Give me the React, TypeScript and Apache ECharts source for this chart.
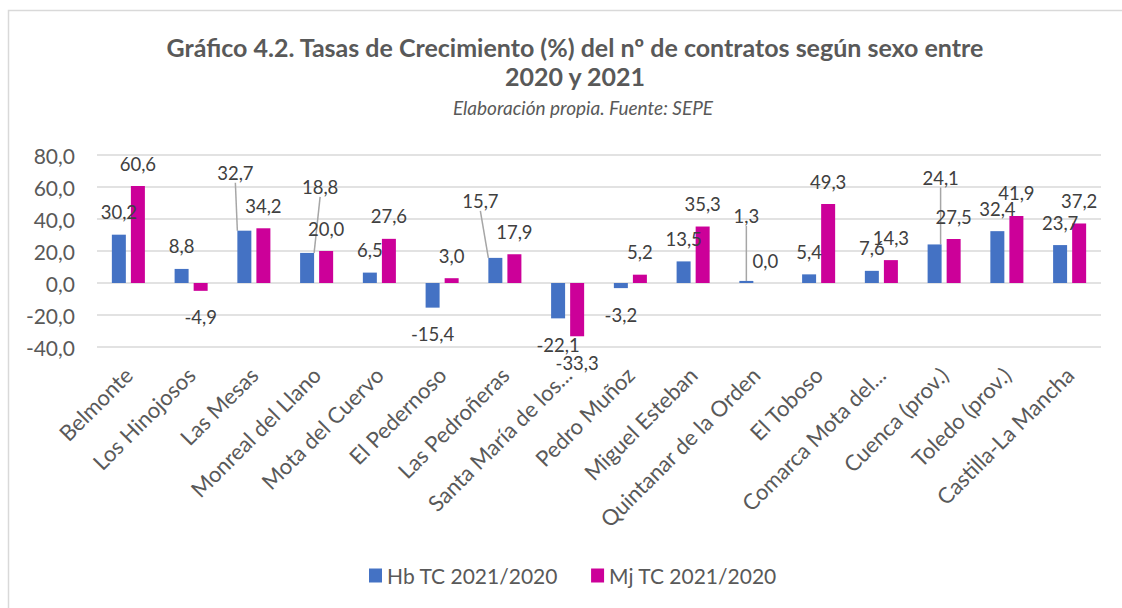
import React, { useEffect, useRef } from "react";
import * as echarts from "echarts";

const categories = [
  "Belmonte",
  "Los Hinojosos",
  "Las Mesas",
  "Monreal del Llano",
  "Mota del Cuervo",
  "El Pedernoso",
  "Las Pedroñeras",
  "Santa María de los...",
  "Pedro Muñoz",
  "Miguel Esteban",
  "Quintanar de la Orden",
  "El Toboso",
  "Comarca Mota del...",
  "Cuenca (prov.)",
  "Toledo (prov.)",
  "Castilla-La Mancha",
];
const hbValues = [30.2, 8.8, 32.7, 18.8, 6.5, -15.4, 15.7, -22.1, -3.2, 13.5, 1.3, 5.4, 7.6, 24.1, 32.4, 23.7];
const mjValues = [60.6, -4.9, 34.2, 20.0, 27.6, 3.0, 17.9, -33.3, 5.2, 35.3, 0.0, 49.3, 14.3, 27.5, 41.9, 37.2];
const seriesNames = ["Hb TC 2021/2020", "Mj TC 2021/2020"];
const yTicks = { min: -40, max: 80, interval: 20 };

// label displacement (px) for labels that Excel moved, with leader lines
const movedLabels: Record<string, [number, number]> = {
  "0-2": [-9, -35],
  "0-3": [13, -43],
  "0-6": [-15, -34],
  "0-10": [0, -42],
  "0-13": [6, -44],
};

const fmt = (v: number) => v.toFixed(1).replace(".", ",");
const TEXT = "#595959";
const FONT = "Lato";

function buildData(values: number[], seriesIndex: number) {
  return values.map((v, i) => {
    const item: any = { value: v };
    if (v < 0) {
      item.label = { position: "bottom", distance: 17 };
    }
    if (movedLabels[seriesIndex + "-" + i]) {
      item.labelLine = { show: true };
    }
    return item;
  });
}

export default function App() {
  const ref = useRef<HTMLDivElement>(null);
  useEffect(() => {
    if (!ref.current) return;
    const chart = echarts.init(ref.current, null, { renderer: "svg" });
    const labelCommon = {
      show: true,
      position: "top",
      distance: 13,
      color: "#404040",
      fontFamily: FONT,
      fontSize: 18.5,
      formatter: (p: any) => fmt(p.value),
    };
    const labelLineCommon = {
      show: false,
      lineStyle: { color: "#A6A6A6", width: 1.5 },
    };
    const labelLayout = (p: any) => {
      const m = movedLabels[p.seriesIndex + "-" + p.dataIndex];
      if (m) return { dx: m[0], dy: m[1] };
      return {};
    };
    chart.setOption({
      animation: false,
      backgroundColor: "#ffffff",
      textStyle: { fontFamily: FONT },
      graphic: [
        {
          type: "rect",
          shape: { x: 8.5, y: 10.5, width: 1140, height: 620 },
          style: { fill: "none", stroke: "#D9D9D9", lineWidth: 1.5 },
          silent: true,
        },
        {
          type: "text",
          x: 575,
          y: 47,
          style: {
            text: "Gráfico 4.2. Tasas de Crecimiento (%) del nº de contratos según sexo entre",
            fill: TEXT,
            font: "bold 25px Lato",
            textAlign: "center",
            textVerticalAlign: "middle",
          },
        },
        {
          type: "text",
          x: 575,
          y: 76,
          style: {
            text: "2020 y 2021",
            fill: TEXT,
            font: "bold 25px Lato",
            textAlign: "center",
            textVerticalAlign: "middle",
          },
        },
        {
          type: "text",
          x: 583,
          y: 107,
          style: {
            text: "Elaboración propia. Fuente: SEPE",
            fill: TEXT,
            font: "italic 19px Lato",
            textAlign: "center",
            textVerticalAlign: "middle",
          },
        },
      ],
      legend: {
        bottom: 17,
        left: 364,
        itemWidth: 13,
        itemHeight: 14,
        itemGap: 33,
        icon: "rect",
        textStyle: { color: TEXT, fontFamily: FONT, fontSize: 21 },
        data: seriesNames,
      },
      grid: { left: 97, right: 21, top: 155, bottom: 261 },
      xAxis: {
        type: "category",
        data: categories,
        axisLine: { show: false, onZero: false },
        axisTick: { show: false },
        axisLabel: {
          interval: 0,
          rotate: 45,
          color: TEXT,
          fontFamily: FONT,
          fontSize: 22,
          margin: 24,
        },
      },
      yAxis: {
        type: "value",
        min: yTicks.min,
        max: yTicks.max,
        interval: yTicks.interval,
        axisLine: { show: false },
        axisTick: { show: false },
        splitLine: { lineStyle: { color: "#D9D9D9", width: 1.5 } },
        axisLabel: {
          color: TEXT,
          fontFamily: FONT,
          fontSize: 21,
          margin: 22,
          formatter: (v: number) => fmt(v),
        },
      },
      series: [
        {
          name: seriesNames[0],
          type: "bar",
          data: buildData(hbValues, 0),
          barWidth: 14,
          barGap: "36%",
          itemStyle: { color: "#4472C4" },
          label: labelCommon,
          labelLine: labelLineCommon,
          labelLayout,
        },
        {
          name: seriesNames[1],
          type: "bar",
          data: buildData(mjValues, 1),
          barWidth: 14,
          barGap: "36%",
          itemStyle: { color: "#CC0099" },
          label: labelCommon,
          labelLine: labelLineCommon,
          labelLayout,
        },
      ],
    });
    return () => chart.dispose();
  }, []);
  return (
    <div
      ref={ref}
      style={{ position: "fixed", left: 0, top: 0, width: 1122, height: 608 }}
    />
  );
}
